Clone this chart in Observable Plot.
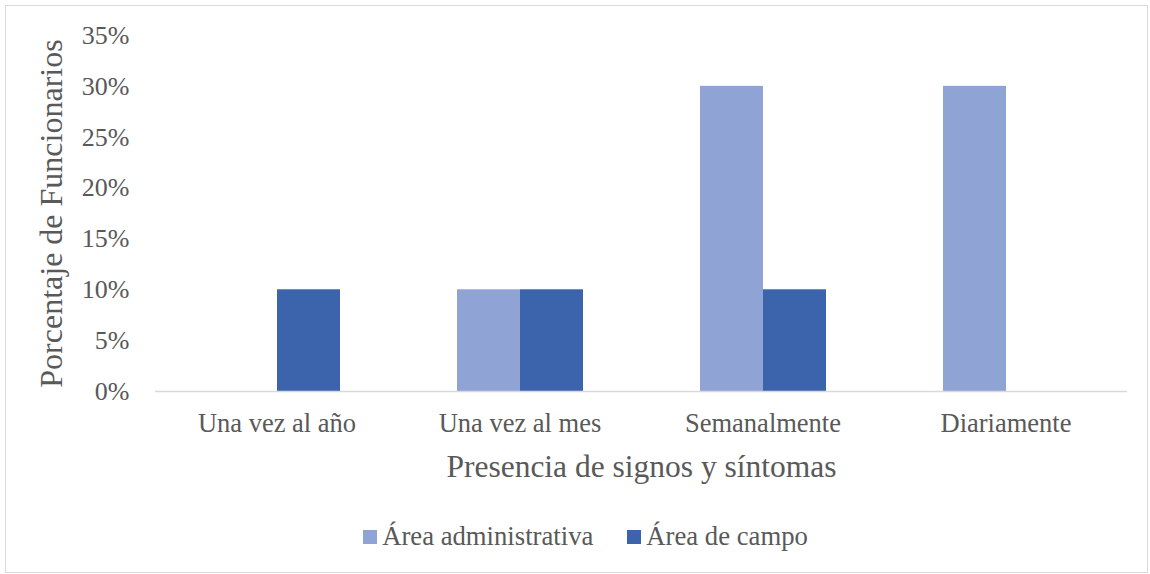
<!DOCTYPE html>
<html>
<head>
<meta charset="utf-8">
<script src="https://cdn.jsdelivr.net/npm/d3@7"></script>
<script src="https://cdn.jsdelivr.net/npm/@observablehq/plot@0.6"></script>
<style>
  html, body { margin: 0; padding: 0; background: #fff; }
  #frame {
    position: absolute; left: 5px; top: 5px; width: 1143px; height: 568px;
    border: 1px solid #d9d9d9; box-sizing: border-box; background: #fff;
    font-family: "Liberation Serif", "Times New Roman", serif; color: #595959;
  }
  #legend {
    position: absolute; left: 18px; right: 0; top: 515px;
    display: flex; justify-content: center; gap: 34px; font-size: 26.7px;
  }
  .item { display: flex; align-items: center; }
  .sw { width: 14px; height: 14px; margin-right: 5px; }
</style>
</head>
<body>
<div id="frame"><div id="chart"></div><div id="legend"></div></div>
<script>
const categories = ["Una vez al año", "Una vez al mes", "Semanalmente", "Diariamente"];
const series = ["Área administrativa", "Área de campo"];
const administrativa = [0, 0.10, 0.30, 0.30];
const campo = [0.10, 0.10, 0.10, 0];
const colors = ["#8FA3D5", "#3B64AD"];
const yTicks = [0, 0.05, 0.10, 0.15, 0.20, 0.25, 0.30, 0.35];
const yTitle = "Porcentaje de Funcionarios";
const xTitle = "Presencia de signos y síntomas";

const data = [];
categories.forEach((c, i) => {
  data.push({cat: c, series: series[0], value: administrativa[i]});
  data.push({cat: c, series: series[1], value: campo[i]});
});

const chart = Plot.plot({
  width: 1141,
  height: 490,
  marginLeft: 149,
  marginRight: 20,
  marginTop: 29,
  marginBottom: 105,
  style: {fontFamily: "'Liberation Serif', 'Times New Roman', serif", color: "#595959", background: "transparent"},
  fx: {domain: categories, padding: 0},
  x: {domain: series, axis: null, paddingInner: 0, paddingOuter: 0.911},
  y: {domain: [0, 0.35], axis: null},
  color: {domain: series, range: colors},
  marks: [
    Plot.barY(data, {fx: "cat", x: "series", y: "value", fill: "series"}),
    Plot.ruleY([0], {stroke: "#d9d9d9", strokeWidth: 1.5}),
    Plot.axisY({ticks: yTicks, tickFormat: d3.format(".0%"), tickSize: 0, tickPadding: 26,
      fontSize: 26, label: yTitle, labelArrow: "none", labelAnchor: "center", labelOffset: 116}),
    Plot.axisFx({anchor: "bottom", tickSize: 0, tickPadding: 22, fontSize: 26.5,
      label: xTitle, labelArrow: "none", labelAnchor: "center", labelOffset: 85})
  ]
});
document.getElementById("chart").appendChild(chart);

// title font sizes; strip any arrow
chart.querySelectorAll("text").forEach(t => {
  const s = t.textContent.replace(/[↑↓←→]/g, "").trim();
  if (s === yTitle || s === xTitle) {
    t.textContent = s;
    t.setAttribute("font-size", s === yTitle ? 32 : 31.5);
  }
});

const legend = document.getElementById("legend");
series.forEach((s, i) => {
  const item = document.createElement("div");
  item.className = "item";
  item.innerHTML = `<div class="sw" style="background:${colors[i]}"></div><span>${s}</span>`;
  legend.appendChild(item);
});
</script>
</body>
</html>
